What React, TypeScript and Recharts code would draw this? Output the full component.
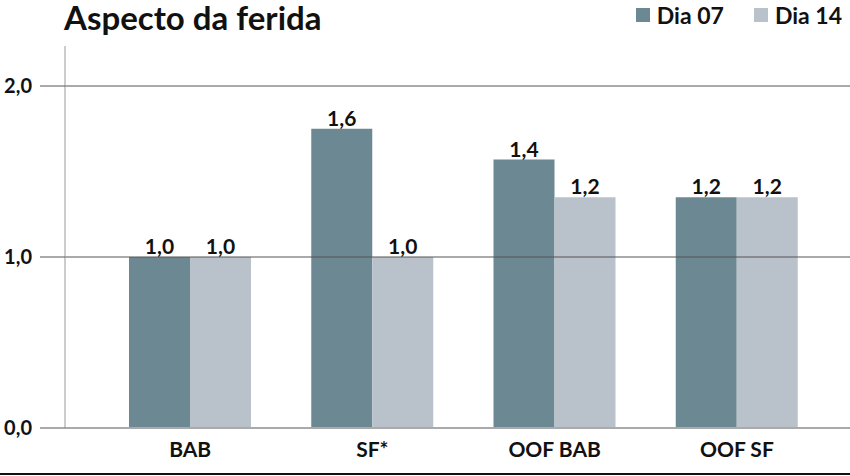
import React from "react";
import {
  BarChart,
  Bar,
  XAxis,
  YAxis,
  ReferenceLine,
  LabelList,
} from "recharts";

const categories = ["BAB", "SF*", "OOF BAB", "OOF SF"];
const dia07 = [1.0, 1.75, 1.57, 1.35];
const dia14 = [1.0, 1.0, 1.35, 1.35];
const labels07 = ["1,0", "1,6", "1,4", "1,2"];
const labels14 = ["1,0", "1,0", "1,2", "1,2"];
const yTicks = [0, 1, 2];

const DARK = "#6c8893";
const LIGHT = "#b9c2ca";
const FONT = "Lato, 'Open Sans', sans-serif";

const data = categories.map((name, i) => ({
  name,
  d07: dia07[i],
  d14: dia14[i],
  l07: labels07[i],
  l14: labels14[i],
}));

const legendItems = [
  { c: DARK, t: "Dia 07" },
  { c: LIGHT, t: "Dia 14" },
];

const labelStyle = { fontFamily: FONT, fontWeight: 700, fontSize: 21, fill: "#111" };

const App: React.FC = () => {
  return (
    <div style={{ position: "relative", width: 850, height: 476, background: "#fff" }}>
      <style>{"body{margin:0}"}</style>
      <div
        style={{
          position: "absolute",
          left: 64,
          top: 0,
          width: 400,
          height: 40,
          lineHeight: "34px",
          whiteSpace: "nowrap",
          fontFamily: FONT,
          fontWeight: 700,
          fontSize: 33,
          color: "#111",
          zIndex: 2,
        }}
      >
        Aspecto da ferida
      </div>
      <div
        style={{
          position: "absolute",
          right: 8,
          top: 1,
          display: "flex",
          gap: 30,
          fontFamily: FONT,
          fontWeight: 700,
          fontSize: 23,
          lineHeight: "28px",
          color: "#111",
          zIndex: 2,
        }}
      >
        {legendItems.map((it) => (
          <div key={it.t} style={{ display: "flex", alignItems: "center" }}>
            <span style={{ display: "inline-block", width: 14, height: 14, background: it.c, marginRight: 7 }} />
            {it.t}
          </div>
        ))}
      </div>
      <BarChart
        width={850}
        height={473}
        data={data}
        margin={{ top: 46, right: 0, bottom: 5, left: 0 }}
        barCategoryGap={30}
        barGap={0}
      >
        <XAxis
          dataKey="name"
          height={40}
          padding={{ left: 34, right: 22 }}
          axisLine={{ stroke: "#aaa", strokeWidth: 2 }}
          tickLine={false}
          tick={{ fontFamily: FONT, fontWeight: 700, fontSize: 21, fill: "#111" }}
          tickMargin={8}
        />
        <YAxis
          width={65}
          domain={[0, 2.234]}
          ticks={yTicks}
          allowDataOverflow
          axisLine={{ stroke: "#999" }}
          tickLine={{ stroke: "#555" }}
          tickSize={25}
          tickMargin={8}
          tickFormatter={(v: number) => v.toFixed(1).replace(".", ",")}
          tick={{ fontFamily: FONT, fontWeight: 700, fontSize: 20, fill: "#111" }}
        />
        {yTicks.slice(1).map((t) => (
          <ReferenceLine key={t} y={t} stroke="#555" strokeWidth={1} />
        ))}
        <Bar dataKey="d07" name="Dia 07" fill={DARK} isAnimationActive={false}>
          <LabelList dataKey="l07" position="top" offset={3} style={labelStyle} />
        </Bar>
        <Bar dataKey="d14" name="Dia 14" fill={LIGHT} isAnimationActive={false}>
          <LabelList dataKey="l14" position="top" offset={3} style={labelStyle} />
        </Bar>
      </BarChart>
      <div style={{ position: "absolute", left: 0, top: 473, width: 850, height: 2, background: "#111" }} />
    </div>
  );
};

export default App;
